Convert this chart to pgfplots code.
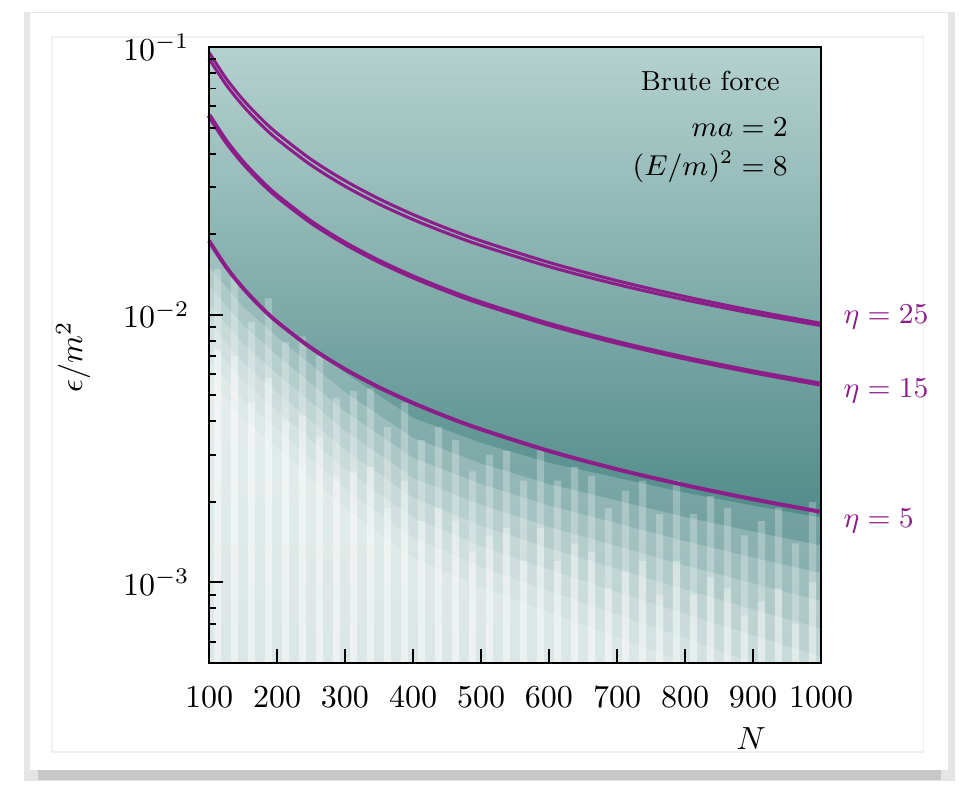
\documentclass[border=0pt]{standalone}
\usepackage{pgfplots}
\pgfplotsset{compat=1.18}
\definecolor{tealtop}{RGB}{180,209,206}
\definecolor{tealmid}{RGB}{110,158,155}
\definecolor{tealbot}{RGB}{50,118,116}
\definecolor{etapurple}{RGB}{140,30,138}
\begin{document}
\begin{tikzpicture}
% page / card decoration
\path[use as bounding box] (0,0) rectangle (305.9375pt,245.3125pt);
\fill[black!10] (7.5pt,1.2pt) rectangle (298.5pt,241.5pt);
\fill[black!22] (12pt,1.5pt) rectangle (294pt,6pt);
\fill[white] (9.4pt,4.7pt) rectangle (296.2pt,241.2pt);
\draw[black!6, line width=0.4pt] (16.25pt,10.3pt) rectangle (288.5pt,233.75pt);
\begin{axis}[
  at={(65.3125pt,38.125pt)}, anchor=south west,
  scale only axis, width=191.25pt, height=192.5pt,
  xmin=100, xmax=1000, ymode=log, ymin=0.0005, ymax=0.1,
  xtick={100,200,...,1000},
  xticklabel style={/pgf/number format/1000 sep={}, yshift=-3.8pt},
  xtick pos=bottom, ytick pos=left, tick align=inside,
  major tick length=4.4pt, minor tick length=2.2pt,
  axis line style={line width=0.6pt},
  every tick/.style={black, line width=0.6pt},
  y tick label style={xshift=-2.6pt},
  xlabel={$N$}, ylabel={$\epsilon/m^2$},
  xlabel style={at={(axis description cs:0.886,-0.123)}, anchor=center},
  ylabel style={at={(axis description cs:-0.222,0.497)}, anchor=center},
  clip=false, axis on top, no markers,
]
% background heat map: vertical teal gradient
\addplot[draw=none, top color=tealtop, middle color=tealmid, bottom color=tealbot]
  coordinates {(100,0.0005) (1000,0.0005) (1000,0.1) (100,0.1)} -- cycle;
% white fading layers (lower region)
\addplot[draw=none, fill=white, fill opacity=0.2] coordinates {
(100,0.01769) (150,0.01255) (200,0.009705) (300,0.006055) (400,0.004116) (500,0.003321) (600,0.002799) (700,0.002461) (800,0.002164) (900,0.001936) (1000,0.001746)
(1000,0.0005) (100,0.0005)} -- cycle;
\addplot[draw=none, fill=white, fill opacity=0.2] coordinates {
(100,0.01508) (150,0.01070) (200,0.008274) (300,0.005131) (400,0.003467) (500,0.002782) (600,0.002329) (700,0.002022) (800,0.001756) (900,0.001548) (1000,0.001374)
(1000,0.0005) (100,0.0005)} -- cycle;
\addplot[draw=none, fill=white, fill opacity=0.2] coordinates {
(100,0.01287) (150,0.009131) (200,0.007059) (300,0.004349) (400,0.002921) (500,0.002329) (600,0.001937) (700,0.001663) (800,0.001426) (900,0.001239) (1000,0.001083)
(1000,0.0005) (100,0.0005)} -- cycle;
\addplot[draw=none, fill=white, fill opacity=0.2] coordinates {
(100,0.01097) (150,0.007784) (200,0.006019) (300,0.003686) (400,0.002461) (500,0.001950) (600,0.001612) (700,0.001366) (800,0.001158) (900,0.0009915) (1000,0.0008523)
(1000,0.0005) (100,0.0005)} -- cycle;
\addplot[draw=none, fill=white, fill opacity=0.2] coordinates {
(100,0.009352) (150,0.006637) (200,0.005131) (300,0.003126) (400,0.002073) (500,0.001632) (600,0.001342) (700,0.001124) (800,0.0009410) (900,0.0007932) (1000,0.0006718)
(1000,0.0005) (100,0.0005)} -- cycle;
\addplot[draw=none, fill=white, fill opacity=0.2] coordinates {
(100,0.007977) (150,0.005657) (200,0.004375) (300,0.002649) (400,0.001746) (500,0.001366) (600,0.001117) (700,0.0009235) (800,0.0007638) (900,0.0006347) (1000,0.0005287)
(1000,0.0005) (100,0.0005)} -- cycle;
\addplot[draw=none, fill=white, fill opacity=0.2] coordinates {
(100,0.006804) (150,0.004828) (200,0.003733) (300,0.002245) (400,0.001471) (500,0.001144) (600,0.0009290) (700,0.0007593) (800,0.0006204) (900,0.0005) (1000,0.0005)
(1000,0.0005) (100,0.0005)} -- cycle;
\addplot[draw=none, fill=white, fill opacity=0.2] coordinates {
(100,0.005801) (150,0.004116) (200,0.003183) (300,0.001903) (400,0.001239) (500,0.0009581) (600,0.0007732) (700,0.0006241) (800,0.0005) (900,0.0005) (1000,0.0005)
(1000,0.0005) (100,0.0005)} -- cycle;
% vertical stripes
\addplot[const plot, draw=none, fill=white, fill opacity=0.25] coordinates {
(100,0.0005)
(107,0.0148) (118,0.0005) (132,0.0139) (143,0.0005) (157,0.0094) (168,0.0005) (182,0.0115) (193,0.0005)
(207,0.0079) (218,0.0005) (232,0.0083) (243,0.0005) (257,0.0070) (268,0.0005) (282,0.0049) (293,0.0005)
(307,0.0052) (318,0.0005) (332,0.0053) (343,0.0005) (357,0.0038) (368,0.0005) (382,0.0047) (393,0.0005)
(407,0.0034) (418,0.0005) (432,0.0038) (443,0.0005) (457,0.0034) (468,0.0005) (482,0.0026) (493,0.0005)
(507,0.0030) (518,0.0005) (532,0.0031) (543,0.0005) (557,0.0024) (568,0.0005) (582,0.0032) (593,0.0005)
(607,0.0024) (618,0.0005) (632,0.0027) (643,0.0005) (657,0.0025) (668,0.0005) (682,0.0019) (693,0.0005)
(707,0.0022) (718,0.0005) (732,0.0024) (743,0.0005) (757,0.0018) (768,0.0005) (782,0.0024) (793,0.0005)
(807,0.0018) (818,0.0005) (832,0.0021) (843,0.0005) (857,0.0019) (868,0.0005) (882,0.0015) (893,0.0005)
(907,0.0017) (918,0.0005) (932,0.0019) (943,0.0005) (957,0.0014) (968,0.0005) (982,0.0020) (993,0.0005)
(1000,0.0005) (100,0.0005)} -- cycle;
\addplot[const plot, draw=none, fill=white, fill opacity=0.3] coordinates {
(100,0.0005)
(107,0.0074) (118,0.0005) (132,0.0070) (143,0.0005) (157,0.0047) (168,0.0005) (182,0.0058) (193,0.0005)
(207,0.0040) (218,0.0005) (232,0.0042) (243,0.0005) (257,0.0035) (268,0.0005) (282,0.0025) (293,0.0005)
(307,0.0026) (318,0.0005) (332,0.0027) (343,0.0005) (357,0.0019) (368,0.0005) (382,0.0024) (393,0.0005)
(407,0.0017) (418,0.0005) (432,0.0019) (443,0.0005) (457,0.0017) (468,0.0005) (482,0.0013) (493,0.0005)
(507,0.0015) (518,0.0005) (532,0.0016) (543,0.0005) (557,0.0012) (568,0.0005) (582,0.0016) (593,0.0005)
(607,0.0012) (618,0.0005) (632,0.0014) (643,0.0005) (657,0.0013) (668,0.0005) (682,0.00095) (693,0.0005)
(707,0.0011) (718,0.0005) (732,0.0012) (743,0.0005) (757,0.0009) (768,0.0005) (782,0.0012) (793,0.0005)
(807,0.0009) (818,0.0005) (832,0.00105) (843,0.0005) (857,0.00095) (868,0.0005) (882,0.00075) (893,0.0005)
(907,0.00085) (918,0.0005) (932,0.00095) (943,0.0005) (957,0.0007) (968,0.0005) (982,0.0010) (993,0.0005)
(1000,0.0005) (100,0.0005)} -- cycle;
% eta = 25 (double line)
\addplot[etapurple, line width=0.95pt, smooth] coordinates {
(100,0.09560) (125,0.07642) (150,0.06363) (175,0.05450) (200,0.04765) (250,0.03806) (300,0.03167) (350,0.02710)
(400,0.02368) (450,0.02101) (500,0.01888) (600,0.01568) (700,0.01340) (800,0.01169) (900,0.01036) (1000,0.00929)};
\addplot[etapurple, line width=0.95pt, smooth] coordinates {
(100,0.09047) (125,0.07239) (150,0.06033) (175,0.05173) (200,0.04527) (250,0.03623) (300,0.03020) (350,0.02590)
(400,0.02267) (450,0.02016) (500,0.01815) (600,0.01513) (700,0.01298) (800,0.01137) (900,0.01011) (1000,0.00911)};
% eta = 15
\addplot[etapurple, line width=1.55pt, smooth] coordinates {
(100,0.0556) (125,0.04446) (150,0.03705) (175,0.03174) (200,0.02777) (250,0.022204) (300,0.01849) (350,0.015837)
(400,0.01385) (450,0.012304) (500,0.011066) (600,0.009212) (700,0.007886) (800,0.006891) (900,0.006119) (1000,0.0055)};
% eta = 5
\addplot[etapurple, line width=1.25pt, smooth] coordinates {
(100,0.0189) (125,0.015104) (150,0.01258) (175,0.010771) (200,0.00942) (250,0.007524) (300,0.00626) (350,0.005357)
(400,0.00468) (450,0.004153) (500,0.003732) (600,0.003098) (700,0.002647) (800,0.002309) (900,0.002046) (1000,0.001835)};
% annotations
\node[anchor=east, font=\fontsize{8.6}{10}\selectfont] at (axis description cs:0.951,0.945) {Brute force};
\node[anchor=east, font=\fontsize{8.6}{10}\selectfont] at (axis description cs:0.964,0.870) {$ma=2$};
\node[anchor=east, font=\fontsize{8.6}{10}\selectfont] at (axis description cs:0.964,0.805) {$(E/m)^2=8$};
\node[anchor=west, inner sep=0pt, text=etapurple, font=\fontsize{8.6}{10}\selectfont] at (axis description cs:1.036,0.562) {$\eta=25$};
\node[anchor=west, inner sep=0pt, text=etapurple, font=\fontsize{8.6}{10}\selectfont] at (axis description cs:1.036,0.442) {$\eta=15$};
\node[anchor=west, inner sep=0pt, text=etapurple, font=\fontsize{8.6}{10}\selectfont] at (axis description cs:1.036,0.2305) {$\eta=5$};
\end{axis}
\end{tikzpicture}
\end{document}
